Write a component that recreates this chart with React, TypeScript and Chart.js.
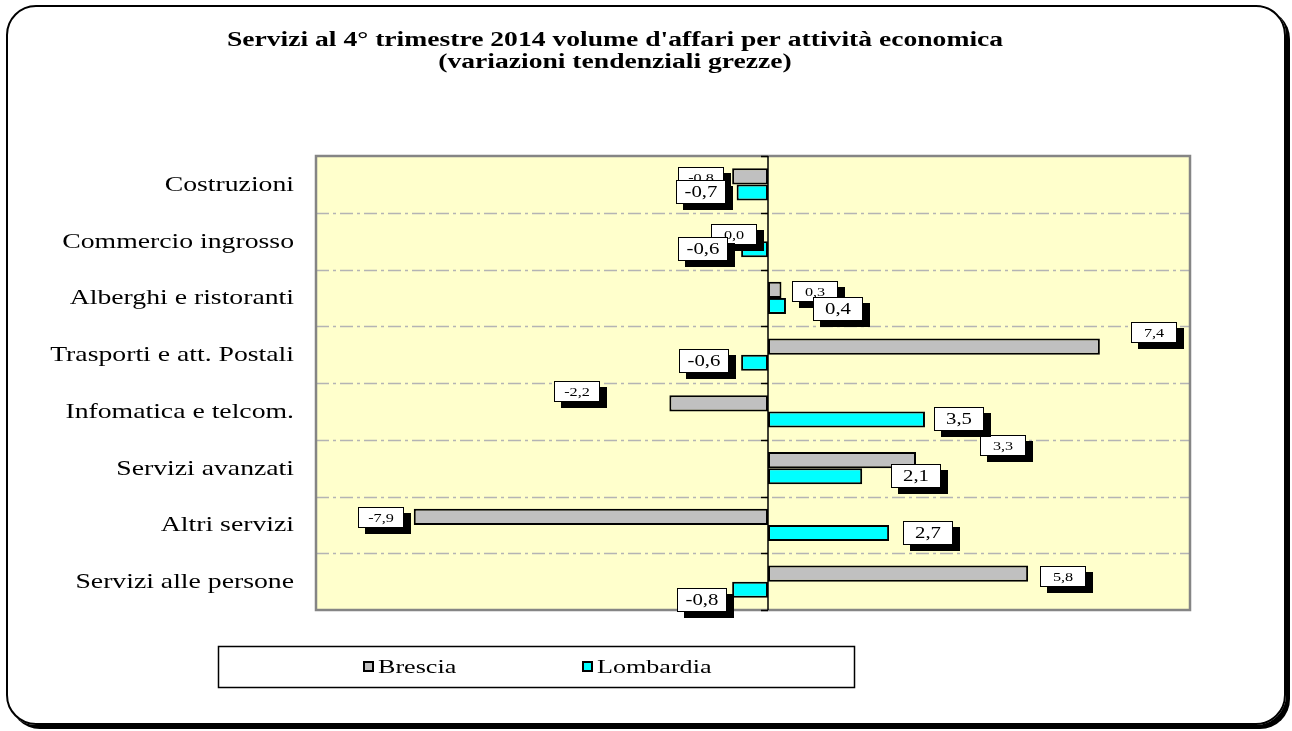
import React, { useEffect, useRef } from "react";
import { Chart, registerables } from "chart.js";

Chart.register(...registerables);

const categories = [
  "Costruzioni",
  "Commercio ingrosso",
  "Alberghi e ristoranti",
  "Trasporti e att. Postali",
  "Infomatica e telcom.",
  "Servizi avanzati",
  "Altri servizi",
  "Servizi alle persone",
];
const brescia = [-0.8, 0.0, 0.3, 7.4, -2.2, 3.3, -7.9, 5.8];
const lombardia = [-0.7, -0.6, 0.4, -0.6, 3.5, 2.1, 2.7, -0.8];
const seriesNames = ["Brescia", "Lombardia"];
const titleLines = [
  "Servizi al 4° trimestre 2014 volume d'affari per attività economica",
  "(variazioni tendenziali grezze)",
];

// label nudges relative to the bar end: [gap from bar end, vertical shift]
const bresciaLabelNudge = [[8, 1], [11, 1], [11, 2], [31, -14], [69, -12], [64, -15], [10, 1], [12, 3]];
const lombardiaLabelNudge = [[11, 0], [13, 0], [27, 3], [12, -2], [9, 0], [29, 0], [14, 0], [5, 10]];

const SERIF = '"Liberation Serif", "Times New Roman", serif';
const colors = ["#C0C0C0", "#00FFFF"];

function drawStretched(
  ctx: CanvasRenderingContext2D,
  text: string,
  x: number,
  y: number,
  align: "left" | "right" | "center",
  font: string,
  sx: number
) {
  ctx.save();
  ctx.font = font;
  const w = ctx.measureText(text).width * sx;
  let left = x;
  if (align === "right") left = x - w;
  else if (align === "center") left = x - w / 2;
  ctx.translate(left, y);
  ctx.scale(sx, 1);
  ctx.textAlign = "left";
  ctx.fillText(text, 0, 0);
  ctx.restore();
}

const fmt = (v: number) => v.toFixed(1).replace(".", ",");

const customPlugin = {
  id: "excelLook",
  beforeDatasetsDraw(chart: any) {
    const { ctx, chartArea: a, scales } = chart;
    const y = scales.y;
    ctx.save();
    ctx.fillStyle = "#FFFFCC";
    ctx.fillRect(a.left, a.top, a.right - a.left, a.bottom - a.top);
    const band = (a.bottom - a.top) / categories.length;
    ctx.strokeStyle = "#B4B4B4";
    ctx.lineWidth = 1.5;
    ctx.setLineDash([13, 4, 3, 4]);
    for (let i = 1; i < categories.length; i++) {
      const yy = Math.round(y.getPixelForValue(i) - band / 2) + 0.5;
      ctx.beginPath();
      ctx.moveTo(a.left, yy);
      ctx.lineTo(a.right, yy);
      ctx.stroke();
    }
    ctx.setLineDash([]);
    ctx.restore();
  },
  afterDatasetsDraw(chart: any) {
    const { ctx, chartArea: a, scales } = chart;
    const x = scales.x;
    const y = scales.y;
    const band = (a.bottom - a.top) / categories.length;
    ctx.save();
    // plot border
    ctx.strokeStyle = "#858585";
    ctx.lineWidth = 2.5;
    ctx.strokeRect(a.left, a.top, a.right - a.left, a.bottom - a.top);
    // zero axis line and ticks
    const zx = Math.round(x.getPixelForValue(0));
    ctx.strokeStyle = "#000";
    ctx.lineWidth = 1.5;
    ctx.beginPath();
    ctx.moveTo(zx, a.top);
    ctx.lineTo(zx, a.bottom);
    ctx.stroke();
    for (let i = 0; i <= categories.length; i++) {
      const yy = Math.round(a.top + i * band) + 0.5;
      ctx.beginPath();
      ctx.moveTo(zx - 7, yy);
      ctx.lineTo(zx, yy);
      ctx.stroke();
    }
    // data labels
    const drawLabels = (dsIndex: number, nudges: number[][], w: number, h: number, font: string, sx: number) => {
      const meta = chart.getDatasetMeta(dsIndex);
      const values = chart.data.datasets[dsIndex].data as number[];
      meta.data.forEach((el: any, i: number) => {
        const v = values[i];
        const [gap, dy] = nudges[i];
        const endX = x.getPixelForValue(v);
        const cy = el.y + dy;
        const left = v > 0 ? endX + gap : endX - gap - w;
        const top = Math.round(cy - h / 2);
        const l = Math.round(left);
        ctx.fillStyle = "#000";
        ctx.fillRect(l + 7, top + 6, w, h);
        ctx.fillStyle = "#fff";
        ctx.fillRect(l, top, w, h);
        ctx.strokeStyle = "#000";
        ctx.lineWidth = 1;
        ctx.strokeRect(l + 0.5, top + 0.5, w - 1, h - 1);
        ctx.fillStyle = "#000";
        ctx.textBaseline = "middle";
        drawStretched(ctx, fmt(v), l + w / 2, top + h / 2 + 1, "center", font, sx);
      });
    };
    drawLabels(0, bresciaLabelNudge, 46, 21, `12px ${SERIF}`, 1.35);
    drawLabels(1, lombardiaLabelNudge, 50, 24, `16px ${SERIF}`, 1.3);

    // category labels
    ctx.fillStyle = "#000";
    ctx.textBaseline = "middle";
    categories.forEach((c, i) => {
      const cy = y.getPixelForValue(i);
      drawStretched(ctx, c, 294, cy + 1, "right", `21px ${SERIF}`, 1.32);
    });

    // title
    ctx.textBaseline = "alphabetic";
    drawStretched(ctx, titleLines[0], 615, 46, "center", `bold 20px ${SERIF}`, 1.38);
    drawStretched(ctx, titleLines[1], 615, 68, "center", `bold 20px ${SERIF}`, 1.38);

    // legend
    ctx.fillStyle = "#fff";
    ctx.fillRect(218, 646, 637, 42);
    ctx.strokeStyle = "#000";
    ctx.lineWidth = 1.5;
    ctx.strokeRect(218.5, 646.5, 636, 41);
    const legendX = [363, 582];
    seriesNames.forEach((n, i) => {
      const lx = legendX[i];
      ctx.fillStyle = "#000";
      ctx.fillRect(lx, 661, 11, 11);
      ctx.fillStyle = colors[i];
      ctx.fillRect(lx + 2, 663, 7, 7);
      ctx.fillStyle = "#000";
      ctx.textBaseline = "alphabetic";
      drawStretched(ctx, n, lx + 15, 673, "left", `18px ${SERIF}`, 1.45);
    });
    ctx.restore();
  },
};

export default function App() {
  const ref = useRef<HTMLCanvasElement>(null);
  useEffect(() => {
    const chart = new Chart(ref.current as HTMLCanvasElement, {
      type: "bar",
      data: {
        labels: categories,
        datasets: [
          {
            label: seriesNames[0],
            data: brescia,
            backgroundColor: colors[0],
            borderColor: "#000",
            borderWidth: 2,
            borderSkipped: false,
            categoryPercentage: 0.564,
            barPercentage: 1,
          },
          {
            label: seriesNames[1],
            data: lombardia,
            backgroundColor: colors[1],
            borderColor: "#000",
            borderWidth: 2,
            borderSkipped: false,
            categoryPercentage: 0.564,
            barPercentage: 1,
          },
        ],
      },
      options: {
        indexAxis: "y",
        responsive: false,
        maintainAspectRatio: false,
        animation: false,
        layout: { padding: { left: 316, right: 1292 - 1190, top: 156, bottom: 731 - 610 } },
        scales: {
          x: { display: false, min: -10.08, max: 9.41 },
          y: { display: false },
        },
        plugins: {
          legend: { display: false },
          title: { display: false },
          tooltip: { enabled: false },
        },
      },
      plugins: [customPlugin],
    } as any);
    return () => chart.destroy();
  }, []);
  return (
    <div style={{ position: "fixed", left: 0, top: 0, width: 1292, height: 731, background: "#fff" }}>
      <div
        style={{
          position: "absolute",
          left: 6,
          top: 5,
          width: 1276,
          height: 716,
          border: "2px solid #000",
          borderRadius: 30,
          boxShadow: "4px 4px 0 #000",
        }}
      />
      <canvas ref={ref} width={1292} height={731} style={{ position: "absolute", left: 0, top: 0 }} />
    </div>
  );
}
